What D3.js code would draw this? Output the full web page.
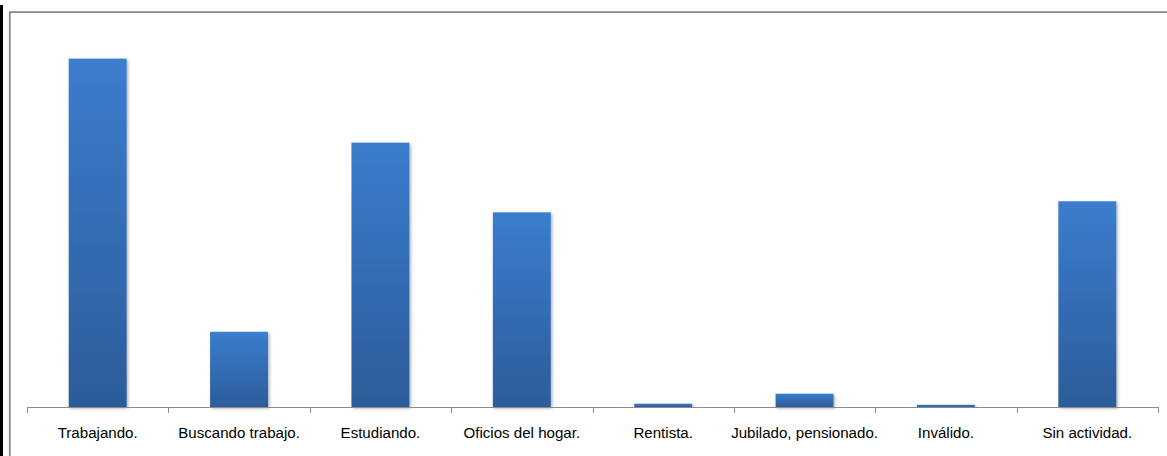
<!DOCTYPE html>
<html><head><meta charset="utf-8">
<script src="https://cdn.jsdelivr.net/npm/d3@7"></script>
<style>body{margin:0;background:#fff}svg{display:block}</style>
</head><body>
<script>
const categories = ["Trabajando.","Buscando trabajo.","Estudiando.","Oficios del hogar.","Rentista.","Jubilado, pensionado.","Inválido.","Sin actividad."];
const values = [31.5, 6.8, 23.9, 17.6, 0.3, 1.2, 0.2, 18.6];

const W = 1167, H = 456;
const svg = d3.select("body").append("svg").attr("width", W).attr("height", H);

const defs = svg.append("defs");
const g = defs.append("linearGradient").attr("id","bg").attr("x1",0).attr("y1",0).attr("x2",0).attr("y2",1);
g.append("stop").attr("offset","0%").attr("stop-color","#3b7dce");
g.append("stop").attr("offset","100%").attr("stop-color","#2c5c9a");
const f = defs.append("filter").attr("id","sh").attr("x","-20%").attr("y","-20%").attr("width","150%").attr("height","150%");
f.append("feDropShadow").attr("dx",1.5).attr("dy",1.5).attr("stdDeviation",1.5).attr("flood-color","#000").attr("flood-opacity",0.3);

// frame
svg.append("rect").attr("x",0).attr("y",5).attr("width",3).attr("height",H-5).attr("fill","#000");
svg.append("path").attr("d",`M9.8,${H}V12.2H${W}`).attr("fill","none").attr("stroke","#878787").attr("stroke-width",1.8);

const x = d3.scaleBand().domain(categories).range([27, 1158]).paddingInner(0.59).paddingOuter(0.295);
const y = d3.scaleLinear().domain([0, 35]).range([407, 407 - 35*11.06]);

svg.append("g").selectAll("rect").data(values).join("rect")
  .attr("x",(d,i)=>x(categories[i]))
  .attr("y",d=>y(d))
  .attr("width",x.bandwidth())
  .attr("height",d=>y(0)-y(d))
  .attr("fill","url(#bg)")
  .attr("filter","url(#sh)");

const ax = d3.scaleBand().domain(categories).range([27, 1158]);
const axis = svg.append("g");
axis.append("line").attr("x1",27).attr("x2",1158).attr("y1",407.5).attr("y2",407.5).attr("stroke","#8c8c8c").attr("stroke-width",1);
const ticks = categories.map(c=>ax(c)).concat([1158]);
axis.selectAll("line.t").data(ticks).join("line").attr("class","t")
  .attr("x1",d=>Math.round(d)+0.5).attr("x2",d=>Math.round(d)+0.5).attr("y1",407).attr("y2",413)
  .attr("stroke","#8c8c8c").attr("stroke-width",1);
axis.selectAll("text").data(categories).join("text")
  .attr("x",d=>ax(d)+ax.bandwidth()/2).attr("y",438)
  .attr("text-anchor","middle")
  .attr("font-family","Liberation Sans, Arial, sans-serif").attr("font-size",15.1)
  .attr("fill","#000").text(d=>d);
</script>
</body></html>
